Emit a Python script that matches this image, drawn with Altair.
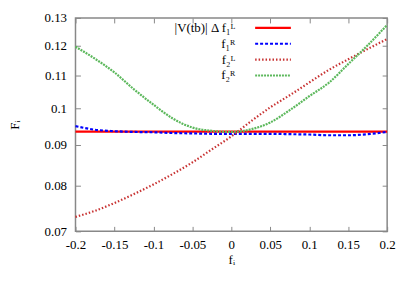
import altair as alt
import pandas as pd

# ---- data ----
x_vals = [-0.2, -0.175, -0.15, -0.125, -0.1, -0.075, -0.05, -0.025, 0.0,
          0.025, 0.05, 0.075, 0.1, 0.125, 0.15, 0.175, 0.2]

f1L_vals = [0.0935] * 17
f1R_vals = [0.0950, 0.0940, 0.0936, 0.0934, 0.0933, 0.0931, 0.0930, 0.0929, 0.0929,
            0.0929, 0.0929, 0.0928, 0.0927, 0.0925, 0.0925, 0.0928, 0.0934]
f2L_vals = [0.0730, 0.0743, 0.0760, 0.0780, 0.0802, 0.0827, 0.0855, 0.0888, 0.0922,
            0.0963, 0.1003, 0.1039, 0.1078, 0.1118, 0.1153, 0.1188, 0.1223]
f2R_vals = [0.1196, 0.1155, 0.1110, 0.1057, 0.1011, 0.0971, 0.0946, 0.0937, 0.0934,
            0.0941, 0.0960, 0.0995, 0.1036, 0.1077, 0.1137, 0.1201, 0.1274]

labels = ["|V(tb)| Δ f₁ᴸ", "f₁ᴿ", "f₂ᴸ", "f₂ᴿ"]
colors = ["#ff0000", "#0000ff", "#c83232", "#5cb85c"]
dashes = [[1, 0], [3, 2], [1.5, 2], [2, 1]]
widths = [2.2, 2.2, 1.6, 1.7]

x_ticks = [-0.2, -0.15, -0.1, -0.05, 0, 0.05, 0.1, 0.15, 0.2]
y_ticks = [0.07, 0.08, 0.09, 0.1, 0.11, 0.12, 0.13]

rows = []
for lab, ys in zip(labels, [f1L_vals, f1R_vals, f2L_vals, f2R_vals]):
    for i, (xv, yv) in enumerate(zip(x_vals, ys)):
        rows.append({"x": xv, "y": yv, "series": lab, "order": i})
df = pd.DataFrame(rows)

FONT = "Liberation Serif"
tick_in = alt.ExprRef(expr="-5")

xscale = alt.Scale(domain=[-0.2, 0.2], nice=False, zero=False)
yscale = alt.Scale(type="log", domain=[0.07, 0.13], nice=False, zero=False)

main = alt.Chart(df).mark_line(interpolate="monotone").encode(
    x=alt.X("x:Q", scale=xscale,
            axis=alt.Axis(values=x_ticks, title="fᵢ", labelExpr="'' + datum.value",
                          tickSize=tick_in, labelPadding=12, grid=False, domain=False,
                          labelFlush=False, tickColor="#888888", titlePadding=2)),
    y=alt.Y("y:Q", scale=yscale,
            axis=alt.Axis(values=y_ticks, title="Fᵢ", labelExpr="'' + datum.value",
                          tickSize=tick_in, labelPadding=14, grid=False, domain=False,
                          labelFlush=False, tickColor="#888888", titlePadding=23)),
    color=alt.Color("series:N", scale=alt.Scale(domain=labels, range=colors),
                    legend=alt.Legend(title=None, orient="none", legendX=190, legendY=1,
                                      symbolType="M-2.4,0H2.4", symbolSize=225,
                                      symbolStrokeWidth=2, labelAlign="right",
                                      labelOffset=alt.ExprRef(expr="-47"),
                                      labelFont=FONT, labelFontSize=13,
                                      rowPadding=0, labelLimit=200)),
    strokeDash=alt.StrokeDash("series:N", scale=alt.Scale(domain=labels, range=dashes),
                              legend=None),
    strokeWidth=alt.StrokeWidth("series:N", scale=alt.Scale(domain=labels, range=widths),
                                legend=None),
    order="order:Q",
    detail="series:N",
)

mirror = alt.Chart(df[df["series"] == labels[0]]).mark_line(opacity=0).encode(
    x=alt.X("x:Q", scale=xscale,
            axis=alt.Axis(orient="top", values=x_ticks, labels=False, title=None,
                          tickSize=tick_in, grid=False, domain=False, tickColor="#888888")),
    y=alt.Y("y:Q", scale=yscale,
            axis=alt.Axis(orient="right", values=y_ticks, labels=False, title=None,
                          tickSize=tick_in, grid=False, domain=False, tickColor="#888888")),
)

chart = alt.layer(main, mirror).resolve_axis(x="independent", y="independent").properties(
    width=314, height=215,
    autosize=alt.AutoSizeParams(type="none"),
    padding={"left": 68, "top": 9, "right": 20, "bottom": 50},
).configure_view(
    stroke="#888888", strokeWidth=1.5
).configure_axis(
    labelFont=FONT, labelFontSize=13, labelColor="black",
    titleFont=FONT, titleFontSize=13, titleFontWeight="normal", titleColor="black",
)

chart.save("out.html", embed_options={"renderer": "svg", "actions": False})
